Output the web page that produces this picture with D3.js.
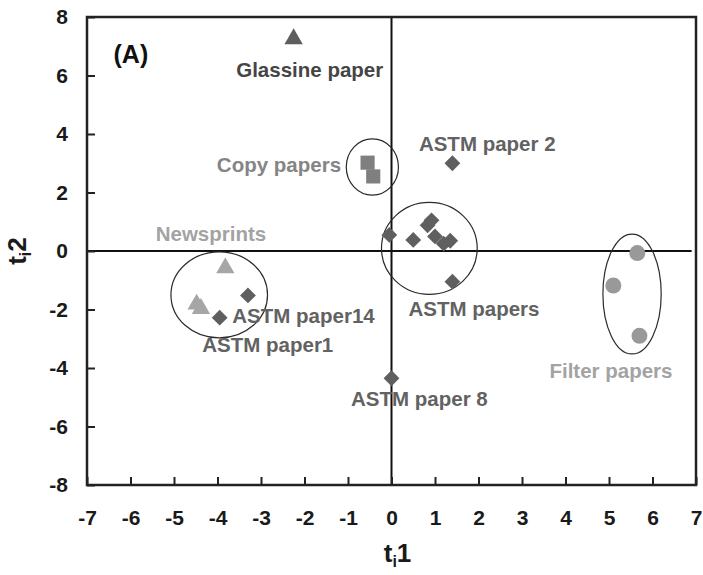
<!DOCTYPE html>
<html>
<head>
<meta charset="utf-8">
<script src="https://cdn.jsdelivr.net/npm/d3@7"></script>
<style>
  body { margin: 0; background: #fff; }
  svg { font-family: "Liberation Sans", Arial, sans-serif; font-weight: bold; }
</style>
</head>
<body>
<div id="chart"></div>
<script>
// score points, t1 / t2
const astmPapers = [
    [-0.05, 0.55], [0.5, 0.38], [0.83, 0.88], [0.92, 1.05], [1.0, 0.5],
    [1.2, 0.25], [1.35, 0.35], [1.4, -1.05],
    [1.4, 3.0],        // ASTM paper 2
    [-3.3, -1.52],     // ASTM paper14
    [-3.95, -2.28],    // ASTM paper1
    [0.0, -4.35]       // ASTM paper 8
];
const glassine = [[-2.25, 7.25]];
const copyPapers = [[-0.55, 3.02], [-0.42, 2.55]];
const newsprints = [[-3.82, -0.58], [-4.48, -1.82], [-4.38, -1.97]];
const filterPapers = [[5.65, -0.07], [5.1, -1.18], [5.7, -2.9]];

// group ellipses: cx, cy, rx, ry (data units)
const groupEllipses = [
    [-0.44, 2.87, 0.6, 0.96],
    [0.87, 0.09, 1.1, 1.57],
    [-3.96, -1.5, 1.11, 1.47],
    [5.53, -1.47, 0.67, 2.05]
];

// labels: text, x, y, anchor, colour
const labels = [
    ["Glassine paper", -1.88, 6.19, "middle", "#454545"],
    ["Copy papers", -1.16, 2.94, "end", "#858585"],
    ["ASTM paper 2", 0.63, 3.66, "start", "#626262"],
    ["Newsprints", -5.42, 0.58, "start", "#a3a3a3"],
    ["ASTM paper14", -3.66, -2.22, "start", "#626262"],
    ["ASTM paper1", -4.35, -3.21, "start", "#626262"],
    ["ASTM papers", 0.39, -1.98, "start", "#626262"],
    ["ASTM paper 8", -0.93, -5.06, "start", "#626262"],
    ["Filter papers", 6.46, -4.1, "end", "#a3a3a3"]
];

const xTicks = d3.range(-7, 8, 1);
const yTicks = d3.range(-8, 9, 2);

const width = 703;
const height = 575;
const margin = {top: 17, right: 7, bottom: 90, left: 87};

const x = d3.scaleLinear().domain([-7, 7]).range([margin.left, width - margin.right]);
const y = d3.scaleLinear().domain([-8, 8]).range([height - margin.bottom, margin.top]);

const svg = d3.select("#chart").append("svg")
    .attr("width", width)
    .attr("height", height);

// zero lines
svg.append("line")
    .attr("x1", x(-7)).attr("x2", x(6.9))
    .attr("y1", y(0)).attr("y2", y(0))
    .attr("stroke", "#111").attr("stroke-width", 2);
svg.append("line")
    .attr("x1", x(0)).attr("x2", x(0))
    .attr("y1", y(-8)).attr("y2", y(8))
    .attr("stroke", "#111").attr("stroke-width", 2);

// axes with inward ticks
const xAxis = svg.append("g")
    .attr("transform", `translate(0,${y(-8)})`)
    .call(d3.axisBottom(x).tickValues(xTicks).tickSizeInner(-8).tickSizeOuter(0).tickPadding(25).tickFormat(d3.format("d")));
const yAxis = svg.append("g")
    .attr("transform", `translate(${x(-7)},0)`)
    .call(d3.axisLeft(y).tickValues(yTicks).tickSizeInner(-8).tickSizeOuter(0).tickPadding(19).tickFormat(d3.format("d")));

[xAxis, yAxis].forEach(a => {
    a.select(".domain").remove();
    a.selectAll(".tick line").attr("stroke", "#222").attr("stroke-width", 2);
    a.selectAll(".tick text")
        .attr("fill", "#1a1a1a")
        .style("font-size", "21px")
        .style("font-weight", "bold")
        .style("font-family", "'Liberation Sans', Arial, sans-serif");
});
xAxis.selectAll(".tick text").text(d => d < 0 ? "-" + Math.abs(d) : d);
yAxis.selectAll(".tick text").text(d => d < 0 ? "-" + Math.abs(d) : d);

// frame
svg.append("rect")
    .attr("x", x(-7)).attr("y", y(8))
    .attr("width", x(7) - x(-7))
    .attr("height", y(-8) - y(8))
    .attr("fill", "none")
    .attr("stroke", "#222")
    .attr("stroke-width", 2.5);

// ellipses
svg.append("g").selectAll("ellipse")
    .data(groupEllipses)
    .join("ellipse")
    .attr("cx", d => x(d[0]))
    .attr("cy", d => y(d[1]))
    .attr("rx", d => x(d[2]) - x(0))
    .attr("ry", d => y(0) - y(d[3]))
    .attr("fill", "none")
    .attr("stroke", "#2a2a2a")
    .attr("stroke-width", 1.2);

// markers
function drawPoints(data, type, size, colour, rotate) {
    svg.append("g").selectAll("path")
        .data(data)
        .join("path")
        .attr("d", d3.symbol().type(type).size(size))
        .attr("transform", d => `translate(${x(d[0])},${y(d[1])}) rotate(${rotate})`)
        .attr("fill", colour);
}
drawPoints(filterPapers, d3.symbolCircle, 200, "#999999", 0);
drawPoints(newsprints, d3.symbolTriangle, 145, "#a6a6a6", 0);
drawPoints(copyPapers, d3.symbolSquare, 200, "#7f7f7f", 0);
drawPoints(glassine, d3.symbolTriangle, 145, "#5e5e5e", 0);
drawPoints(astmPapers, d3.symbolSquare, 125, "#5f5f5f", 45);

// labels
svg.append("g").selectAll("text")
    .data(labels)
    .join("text")
    .attr("x", d => x(d[1]))
    .attr("y", d => y(d[2]))
    .attr("dy", "0.35em")
    .attr("text-anchor", d => d[3])
    .attr("fill", d => d[4])
    .style("font-size", "20.5px")
    .text(d => d[0]);

svg.append("text")
    .attr("x", x(-6.39))
    .attr("y", y(6.74))
    .attr("dy", "0.35em")
    .attr("fill", "#111")
    .style("font-size", "25px")
    .text("(A)");

// axis titles
const xt = svg.append("text")
    .attr("x", x(0) + 6)
    .attr("y", 562)
    .attr("text-anchor", "middle")
    .attr("fill", "#1a1a1a")
    .style("font-size", "26px");
xt.append("tspan").text("t");
xt.append("tspan").attr("dy", 5).style("font-size", "16px").text("i");
xt.append("tspan").attr("dy", -5).text("1");

const yt = svg.append("text")
    .attr("transform", `translate(26,${y(0)}) rotate(-90)`)
    .attr("text-anchor", "middle")
    .attr("fill", "#1a1a1a")
    .style("font-size", "26px");
yt.append("tspan").text("t");
yt.append("tspan").attr("dy", 5).style("font-size", "16px").text("i");
yt.append("tspan").attr("dy", -5).text("2");
</script>
</body>
</html>
